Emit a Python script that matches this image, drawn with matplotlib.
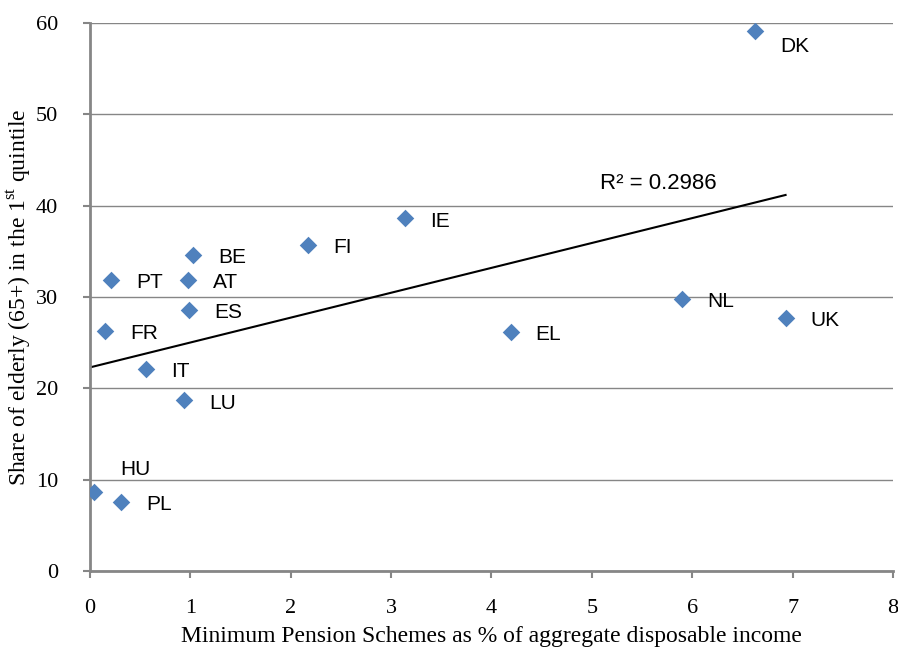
import numpy as np
import matplotlib.pyplot as plt

plt.rcParams['mathtext.fontset'] = 'custom'
plt.rcParams['mathtext.rm'] = 'Liberation Serif'

# values
countries = ['DK', 'UK', 'NL', 'EL', 'IE', 'FI', 'BE', 'AT', 'ES', 'PT',
             'FR', 'IT', 'LU', 'HU', 'PL']
pension_pct = [6.63, 6.93, 5.90, 4.19, 3.14, 2.17, 1.03, 0.98, 0.99, 0.21,
               0.15, 0.56, 0.94, 0.04, 0.31]
elderly_share = [59.1, 27.7, 29.8, 26.2, 38.6, 35.7, 34.6, 31.9, 28.6, 31.9,
                 26.3, 22.1, 18.7, 8.7, 7.6]
r2_label = 'R² = 0.2986'

# label offsets in points (default right of the marker)
label_offsets = {'DK': (18, -11), 'HU': (19, 16)}

GRAY = '#868686'
BLUE = '#4F81BD'

fig = plt.figure(figsize=(8.98, 6.55), dpi=100)
ax = fig.add_axes([0.1002, 0.1282, 0.8942, 0.8367])

x = np.array(pension_pct)
y = np.array(elderly_share)

ax.scatter(x, y, marker='D', s=80, color=BLUE, zorder=3, linewidths=0)

# linear trendline over the data range
slope, intercept = np.polyfit(x, y, 1)
xs = np.array([0, x.max()])
ax.plot(xs, slope * xs + intercept, color='black', lw=1.5, zorder=2)
ax.text(5.08, 42.4, r2_label, fontsize=16, family='Liberation Sans',
        ha='left', va='center')

for name, xi, yi in zip(countries, x, y):
    dx, dy = label_offsets.get(name, (18, -2))
    ax.annotate(name, (xi, yi), xytext=(dx, dy), textcoords='offset points',
                ha='left', va='center', fontsize=15, family='Liberation Sans')

ax.set_xlim(0, 8)
ax.set_ylim(0, 60)
ax.set_xticks(range(0, 9))
ax.set_yticks(range(0, 61, 10))
ax.grid(axis='y', color=GRAY, lw=1)
ax.set_axisbelow(True)

for side in ['top', 'right']:
    ax.spines[side].set_visible(False)
for side in ['left', 'bottom']:
    ax.spines[side].set_color(GRAY)
    ax.spines[side].set_linewidth(2)

ax.tick_params(direction='out', length=5, width=1.5, color=GRAY,
               labelsize=16)
ax.tick_params(axis='y', pad=18)
ax.tick_params(axis='x', pad=15)
for lab in ax.get_xticklabels() + ax.get_yticklabels():
    lab.set_family('Liberation Serif')

ax.set_xlabel('Minimum Pension Schemes as % of aggregate disposable income',
              family='Liberation Serif', fontsize=17, labelpad=6)
ax.set_ylabel('Share of elderly (65+) in the 1$^{\\mathrm{st}}$ quintile',
              family='Liberation Serif', fontsize=17, labelpad=2)

fig.savefig('out.png', dpi=100)
